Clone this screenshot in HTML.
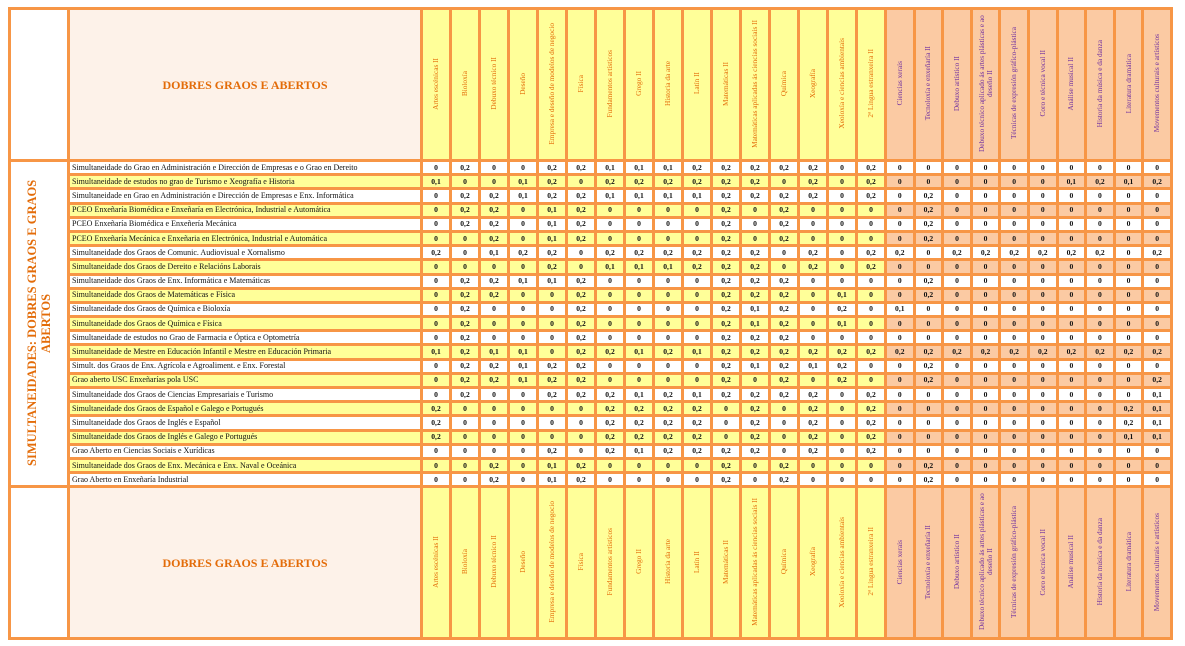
<!DOCTYPE html>
<html><head><meta charset="utf-8"><style>
body{margin:0;width:1185px;height:646px;background:#fff;overflow:hidden;font-family:"Liberation Serif",serif}
table{position:absolute;left:8px;top:7px;width:1162px;border-collapse:collapse;table-layout:fixed}
td{border:3px solid #f79646;padding:0;text-align:center;font-size:7.6px;font-weight:bold;color:#111;height:11.2px;line-height:8px;overflow:hidden;white-space:nowrap;background:#fff}
tr{height:14.2px}
td.l{text-align:left;font-weight:normal;font-size:8px;padding-left:2px}
tr.y td{background:#ffff99}
tr.y td:nth-child(n+18){background:#fbcaa3}
tr.h{height:152px}
tr.h td{height:149px;font-weight:normal;color:#e36c09}
tr.h td.w{background:#fff}
tr.h td.c{background:#fdf2e9;font-weight:bold;font-size:12px}
tr.h td.yy{background:#ffff99}
tr.h td.oo{background:#fbcaa3;color:#7030a0}
.v{writing-mode:vertical-rl;transform:rotate(180deg);display:inline-block;font-size:7.3px;line-height:8px;white-space:normal;max-height:145px;text-align:center}
td.side{background:#fff;color:#e36c09;font-weight:bold;height:auto}
.side .v{font-size:12.5px;line-height:14px;max-height:310px}
</style></head><body>
<table>
<colgroup><col style="width:59px"><col style="width:353px">
<col span="16" style="width:29px"><col span="10" style="width:28.6px"></colgroup>
<tr class="h"><td class="w"></td><td class="c">DOBRES GRAOS E ABERTOS</td>
<td class="yy"><span class="v">Artes escénicas II</span></td><td class="yy"><span class="v">Bioloxía</span></td><td class="yy"><span class="v">Debuxo técnico II</span></td><td class="yy"><span class="v">Deseño</span></td><td class="yy"><span class="v">Empresa e deseño de modelos de negocio</span></td><td class="yy"><span class="v">Física</span></td><td class="yy"><span class="v">Fundamentos artísticos</span></td><td class="yy"><span class="v">Grego II</span></td><td class="yy"><span class="v">Historia da arte</span></td><td class="yy"><span class="v">Latín II</span></td><td class="yy"><span class="v">Matemáticas II</span></td><td class="yy"><span class="v">Matemáticas aplicadas ás ciencias sociais II</span></td><td class="yy"><span class="v">Química</span></td><td class="yy"><span class="v">Xeografía</span></td><td class="yy"><span class="v">Xeoloxía e ciencias ambientais</span></td><td class="yy"><span class="v">2ª Lingua estranxeira II</span></td>
<td class="oo"><span class="v">Ciencias xerais</span></td><td class="oo"><span class="v">Tecnoloxía e enxeñaría II</span></td><td class="oo"><span class="v">Debuxo artístico II</span></td><td class="oo"><span class="v">Debuxo técnico aplicado ás artes plásticas e ao deseño II</span></td><td class="oo"><span class="v">Técnicas de expresión gráfico-plástica</span></td><td class="oo"><span class="v">Coro e técnica vocal II</span></td><td class="oo"><span class="v">Análise musical II</span></td><td class="oo"><span class="v">Historia da música e da danza</span></td><td class="oo"><span class="v">Literatura dramática</span></td><td class="oo"><span class="v">Movementos culturais e artísticos</span></td></tr>
<tr><td class="side" rowspan="23"><span class="v">SIMULTANEIDADES: DOBRES GRAOS E GRAOS ABERTOS</span></td><td class="l">Simultaneidade do Grao en Administración e Dirección de Empresas e o Grao en Dereito</td><td>0</td><td>0,2</td><td>0</td><td>0</td><td>0,2</td><td>0,2</td><td>0,1</td><td>0,1</td><td>0,1</td><td>0,2</td><td>0,2</td><td>0,2</td><td>0,2</td><td>0,2</td><td>0</td><td>0,2</td><td>0</td><td>0</td><td>0</td><td>0</td><td>0</td><td>0</td><td>0</td><td>0</td><td>0</td><td>0</td></tr>
<tr class="y"><td class="l">Simultaneidade de estudos no grao de Turismo e Xeografía e Historia</td><td>0,1</td><td>0</td><td>0</td><td>0,1</td><td>0,2</td><td>0</td><td>0,2</td><td>0,2</td><td>0,2</td><td>0,2</td><td>0,2</td><td>0,2</td><td>0</td><td>0,2</td><td>0</td><td>0,2</td><td>0</td><td>0</td><td>0</td><td>0</td><td>0</td><td>0</td><td>0,1</td><td>0,2</td><td>0,1</td><td>0,2</td></tr>
<tr><td class="l">Simultaneidade en Grao en Administración e Dirección de Empresas e Enx. Informática</td><td>0</td><td>0,2</td><td>0,2</td><td>0,1</td><td>0,2</td><td>0,2</td><td>0,1</td><td>0,1</td><td>0,1</td><td>0,1</td><td>0,2</td><td>0,2</td><td>0,2</td><td>0,2</td><td>0</td><td>0,2</td><td>0</td><td>0,2</td><td>0</td><td>0</td><td>0</td><td>0</td><td>0</td><td>0</td><td>0</td><td>0</td></tr>
<tr class="y"><td class="l">PCEO Enxeñaría Biomédica e Enxeñaría en Electrónica, Industrial e Automática</td><td>0</td><td>0,2</td><td>0,2</td><td>0</td><td>0,1</td><td>0,2</td><td>0</td><td>0</td><td>0</td><td>0</td><td>0,2</td><td>0</td><td>0,2</td><td>0</td><td>0</td><td>0</td><td>0</td><td>0,2</td><td>0</td><td>0</td><td>0</td><td>0</td><td>0</td><td>0</td><td>0</td><td>0</td></tr>
<tr><td class="l">PCEO Enxeñaría Biomédica e Enxeñería Mecánica</td><td>0</td><td>0,2</td><td>0,2</td><td>0</td><td>0,1</td><td>0,2</td><td>0</td><td>0</td><td>0</td><td>0</td><td>0,2</td><td>0</td><td>0,2</td><td>0</td><td>0</td><td>0</td><td>0</td><td>0,2</td><td>0</td><td>0</td><td>0</td><td>0</td><td>0</td><td>0</td><td>0</td><td>0</td></tr>
<tr class="y"><td class="l">PCEO Enxeñaría Mecánica e Enxeñaria en Electrónica, Industrial e Automática</td><td>0</td><td>0</td><td>0,2</td><td>0</td><td>0,1</td><td>0,2</td><td>0</td><td>0</td><td>0</td><td>0</td><td>0,2</td><td>0</td><td>0,2</td><td>0</td><td>0</td><td>0</td><td>0</td><td>0,2</td><td>0</td><td>0</td><td>0</td><td>0</td><td>0</td><td>0</td><td>0</td><td>0</td></tr>
<tr><td class="l">Simultaneidade dos Graos de Comunic. Audiovisual e Xornalismo</td><td>0,2</td><td>0</td><td>0,1</td><td>0,2</td><td>0,2</td><td>0</td><td>0,2</td><td>0,2</td><td>0,2</td><td>0,2</td><td>0,2</td><td>0,2</td><td>0</td><td>0,2</td><td>0</td><td>0,2</td><td>0,2</td><td>0</td><td>0,2</td><td>0,2</td><td>0,2</td><td>0,2</td><td>0,2</td><td>0,2</td><td>0</td><td>0,2</td></tr>
<tr class="y"><td class="l">Simultaneidade dos Graos de Dereito e Relacións Laborais</td><td>0</td><td>0</td><td>0</td><td>0</td><td>0,2</td><td>0</td><td>0,1</td><td>0,1</td><td>0,1</td><td>0,2</td><td>0,2</td><td>0,2</td><td>0</td><td>0,2</td><td>0</td><td>0,2</td><td>0</td><td>0</td><td>0</td><td>0</td><td>0</td><td>0</td><td>0</td><td>0</td><td>0</td><td>0</td></tr>
<tr><td class="l">Simultaneidade dos Graos de Enx. Informática e Matemáticas</td><td>0</td><td>0,2</td><td>0,2</td><td>0,1</td><td>0,1</td><td>0,2</td><td>0</td><td>0</td><td>0</td><td>0</td><td>0,2</td><td>0,2</td><td>0,2</td><td>0</td><td>0</td><td>0</td><td>0</td><td>0,2</td><td>0</td><td>0</td><td>0</td><td>0</td><td>0</td><td>0</td><td>0</td><td>0</td></tr>
<tr class="y"><td class="l">Simultaneidade dos Graos de Matemáticas e Física</td><td>0</td><td>0,2</td><td>0,2</td><td>0</td><td>0</td><td>0,2</td><td>0</td><td>0</td><td>0</td><td>0</td><td>0,2</td><td>0,2</td><td>0,2</td><td>0</td><td>0,1</td><td>0</td><td>0</td><td>0,2</td><td>0</td><td>0</td><td>0</td><td>0</td><td>0</td><td>0</td><td>0</td><td>0</td></tr>
<tr><td class="l">Simultaneidade dos Graos de Química e Bioloxía</td><td>0</td><td>0,2</td><td>0</td><td>0</td><td>0</td><td>0,2</td><td>0</td><td>0</td><td>0</td><td>0</td><td>0,2</td><td>0,1</td><td>0,2</td><td>0</td><td>0,2</td><td>0</td><td>0,1</td><td>0</td><td>0</td><td>0</td><td>0</td><td>0</td><td>0</td><td>0</td><td>0</td><td>0</td></tr>
<tr class="y"><td class="l">Simultaneidade dos Graos de Química e Física</td><td>0</td><td>0,2</td><td>0</td><td>0</td><td>0</td><td>0,2</td><td>0</td><td>0</td><td>0</td><td>0</td><td>0,2</td><td>0,1</td><td>0,2</td><td>0</td><td>0,1</td><td>0</td><td>0</td><td>0</td><td>0</td><td>0</td><td>0</td><td>0</td><td>0</td><td>0</td><td>0</td><td>0</td></tr>
<tr><td class="l">Simultaneidade de estudos no Grao de Farmacia e Óptica e Optometría</td><td>0</td><td>0,2</td><td>0</td><td>0</td><td>0</td><td>0,2</td><td>0</td><td>0</td><td>0</td><td>0</td><td>0,2</td><td>0,2</td><td>0,2</td><td>0</td><td>0</td><td>0</td><td>0</td><td>0</td><td>0</td><td>0</td><td>0</td><td>0</td><td>0</td><td>0</td><td>0</td><td>0</td></tr>
<tr class="y"><td class="l">Simultaneidade de Mestre en Educación Infantil e Mestre en Educación Primaria</td><td>0,1</td><td>0,2</td><td>0,1</td><td>0,1</td><td>0</td><td>0,2</td><td>0,2</td><td>0,1</td><td>0,2</td><td>0,1</td><td>0,2</td><td>0,2</td><td>0,2</td><td>0,2</td><td>0,2</td><td>0,2</td><td>0,2</td><td>0,2</td><td>0,2</td><td>0,2</td><td>0,2</td><td>0,2</td><td>0,2</td><td>0,2</td><td>0,2</td><td>0,2</td></tr>
<tr><td class="l">Simult. dos Graos de Enx. Agrícola e Agroaliment. e Enx. Forestal</td><td>0</td><td>0,2</td><td>0,2</td><td>0,1</td><td>0,2</td><td>0,2</td><td>0</td><td>0</td><td>0</td><td>0</td><td>0,2</td><td>0,1</td><td>0,2</td><td>0,1</td><td>0,2</td><td>0</td><td>0</td><td>0,2</td><td>0</td><td>0</td><td>0</td><td>0</td><td>0</td><td>0</td><td>0</td><td>0</td></tr>
<tr class="y"><td class="l">Grao aberto USC Enxeñarías pola USC</td><td>0</td><td>0,2</td><td>0,2</td><td>0,1</td><td>0,2</td><td>0,2</td><td>0</td><td>0</td><td>0</td><td>0</td><td>0,2</td><td>0</td><td>0,2</td><td>0</td><td>0,2</td><td>0</td><td>0</td><td>0,2</td><td>0</td><td>0</td><td>0</td><td>0</td><td>0</td><td>0</td><td>0</td><td>0,2</td></tr>
<tr><td class="l">Simultaneidade dos Graos de Ciencias Empresariais e Turismo</td><td>0</td><td>0,2</td><td>0</td><td>0</td><td>0,2</td><td>0,2</td><td>0,2</td><td>0,1</td><td>0,2</td><td>0,1</td><td>0,2</td><td>0,2</td><td>0,2</td><td>0,2</td><td>0</td><td>0,2</td><td>0</td><td>0</td><td>0</td><td>0</td><td>0</td><td>0</td><td>0</td><td>0</td><td>0</td><td>0,1</td></tr>
<tr class="y"><td class="l">Simultaneidade dos Graos de Español e Galego e Portugués</td><td>0,2</td><td>0</td><td>0</td><td>0</td><td>0</td><td>0</td><td>0,2</td><td>0,2</td><td>0,2</td><td>0,2</td><td>0</td><td>0,2</td><td>0</td><td>0,2</td><td>0</td><td>0,2</td><td>0</td><td>0</td><td>0</td><td>0</td><td>0</td><td>0</td><td>0</td><td>0</td><td>0,2</td><td>0,1</td></tr>
<tr><td class="l">Simultaneidade dos Graos de Inglés e Español</td><td>0,2</td><td>0</td><td>0</td><td>0</td><td>0</td><td>0</td><td>0,2</td><td>0,2</td><td>0,2</td><td>0,2</td><td>0</td><td>0,2</td><td>0</td><td>0,2</td><td>0</td><td>0,2</td><td>0</td><td>0</td><td>0</td><td>0</td><td>0</td><td>0</td><td>0</td><td>0</td><td>0,2</td><td>0,1</td></tr>
<tr class="y"><td class="l">Simultaneidade dos Graos de Inglés e Galego e Portugués</td><td>0,2</td><td>0</td><td>0</td><td>0</td><td>0</td><td>0</td><td>0,2</td><td>0,2</td><td>0,2</td><td>0,2</td><td>0</td><td>0,2</td><td>0</td><td>0,2</td><td>0</td><td>0,2</td><td>0</td><td>0</td><td>0</td><td>0</td><td>0</td><td>0</td><td>0</td><td>0</td><td>0,1</td><td>0,1</td></tr>
<tr><td class="l">Grao Aberto en Ciencias Sociais e Xurídicas</td><td>0</td><td>0</td><td>0</td><td>0</td><td>0,2</td><td>0</td><td>0,2</td><td>0,1</td><td>0,2</td><td>0,2</td><td>0,2</td><td>0,2</td><td>0</td><td>0,2</td><td>0</td><td>0,2</td><td>0</td><td>0</td><td>0</td><td>0</td><td>0</td><td>0</td><td>0</td><td>0</td><td>0</td><td>0</td></tr>
<tr class="y"><td class="l">Simultaneidade dos Graos de Enx. Mecánica e Enx. Naval e Oceánica</td><td>0</td><td>0</td><td>0,2</td><td>0</td><td>0,1</td><td>0,2</td><td>0</td><td>0</td><td>0</td><td>0</td><td>0,2</td><td>0</td><td>0,2</td><td>0</td><td>0</td><td>0</td><td>0</td><td>0,2</td><td>0</td><td>0</td><td>0</td><td>0</td><td>0</td><td>0</td><td>0</td><td>0</td></tr>
<tr><td class="l">Grao Aberto en Enxeñaría Industrial</td><td>0</td><td>0</td><td>0,2</td><td>0</td><td>0,1</td><td>0,2</td><td>0</td><td>0</td><td>0</td><td>0</td><td>0,2</td><td>0</td><td>0,2</td><td>0</td><td>0</td><td>0</td><td>0</td><td>0,2</td><td>0</td><td>0</td><td>0</td><td>0</td><td>0</td><td>0</td><td>0</td><td>0</td></tr>
<tr class="h"><td class="w"></td><td class="c">DOBRES GRAOS E ABERTOS</td>
<td class="yy"><span class="v">Artes escénicas II</span></td><td class="yy"><span class="v">Bioloxía</span></td><td class="yy"><span class="v">Debuxo técnico II</span></td><td class="yy"><span class="v">Deseño</span></td><td class="yy"><span class="v">Empresa e deseño de modelos de negocio</span></td><td class="yy"><span class="v">Física</span></td><td class="yy"><span class="v">Fundamentos artísticos</span></td><td class="yy"><span class="v">Grego II</span></td><td class="yy"><span class="v">Historia da arte</span></td><td class="yy"><span class="v">Latín II</span></td><td class="yy"><span class="v">Matemáticas II</span></td><td class="yy"><span class="v">Matemáticas aplicadas ás ciencias sociais II</span></td><td class="yy"><span class="v">Química</span></td><td class="yy"><span class="v">Xeografía</span></td><td class="yy"><span class="v">Xeoloxía e ciencias ambientais</span></td><td class="yy"><span class="v">2ª Lingua estranxeira II</span></td>
<td class="oo"><span class="v">Ciencias xerais</span></td><td class="oo"><span class="v">Tecnoloxía e enxeñaría II</span></td><td class="oo"><span class="v">Debuxo artístico II</span></td><td class="oo"><span class="v">Debuxo técnico aplicado ás artes plásticas e ao deseño II</span></td><td class="oo"><span class="v">Técnicas de expresión gráfico-plástica</span></td><td class="oo"><span class="v">Coro e técnica vocal II</span></td><td class="oo"><span class="v">Análise musical II</span></td><td class="oo"><span class="v">Historia da música e da danza</span></td><td class="oo"><span class="v">Literatura dramática</span></td><td class="oo"><span class="v">Movementos culturais e artísticos</span></td></tr>
</table>
</body></html>
